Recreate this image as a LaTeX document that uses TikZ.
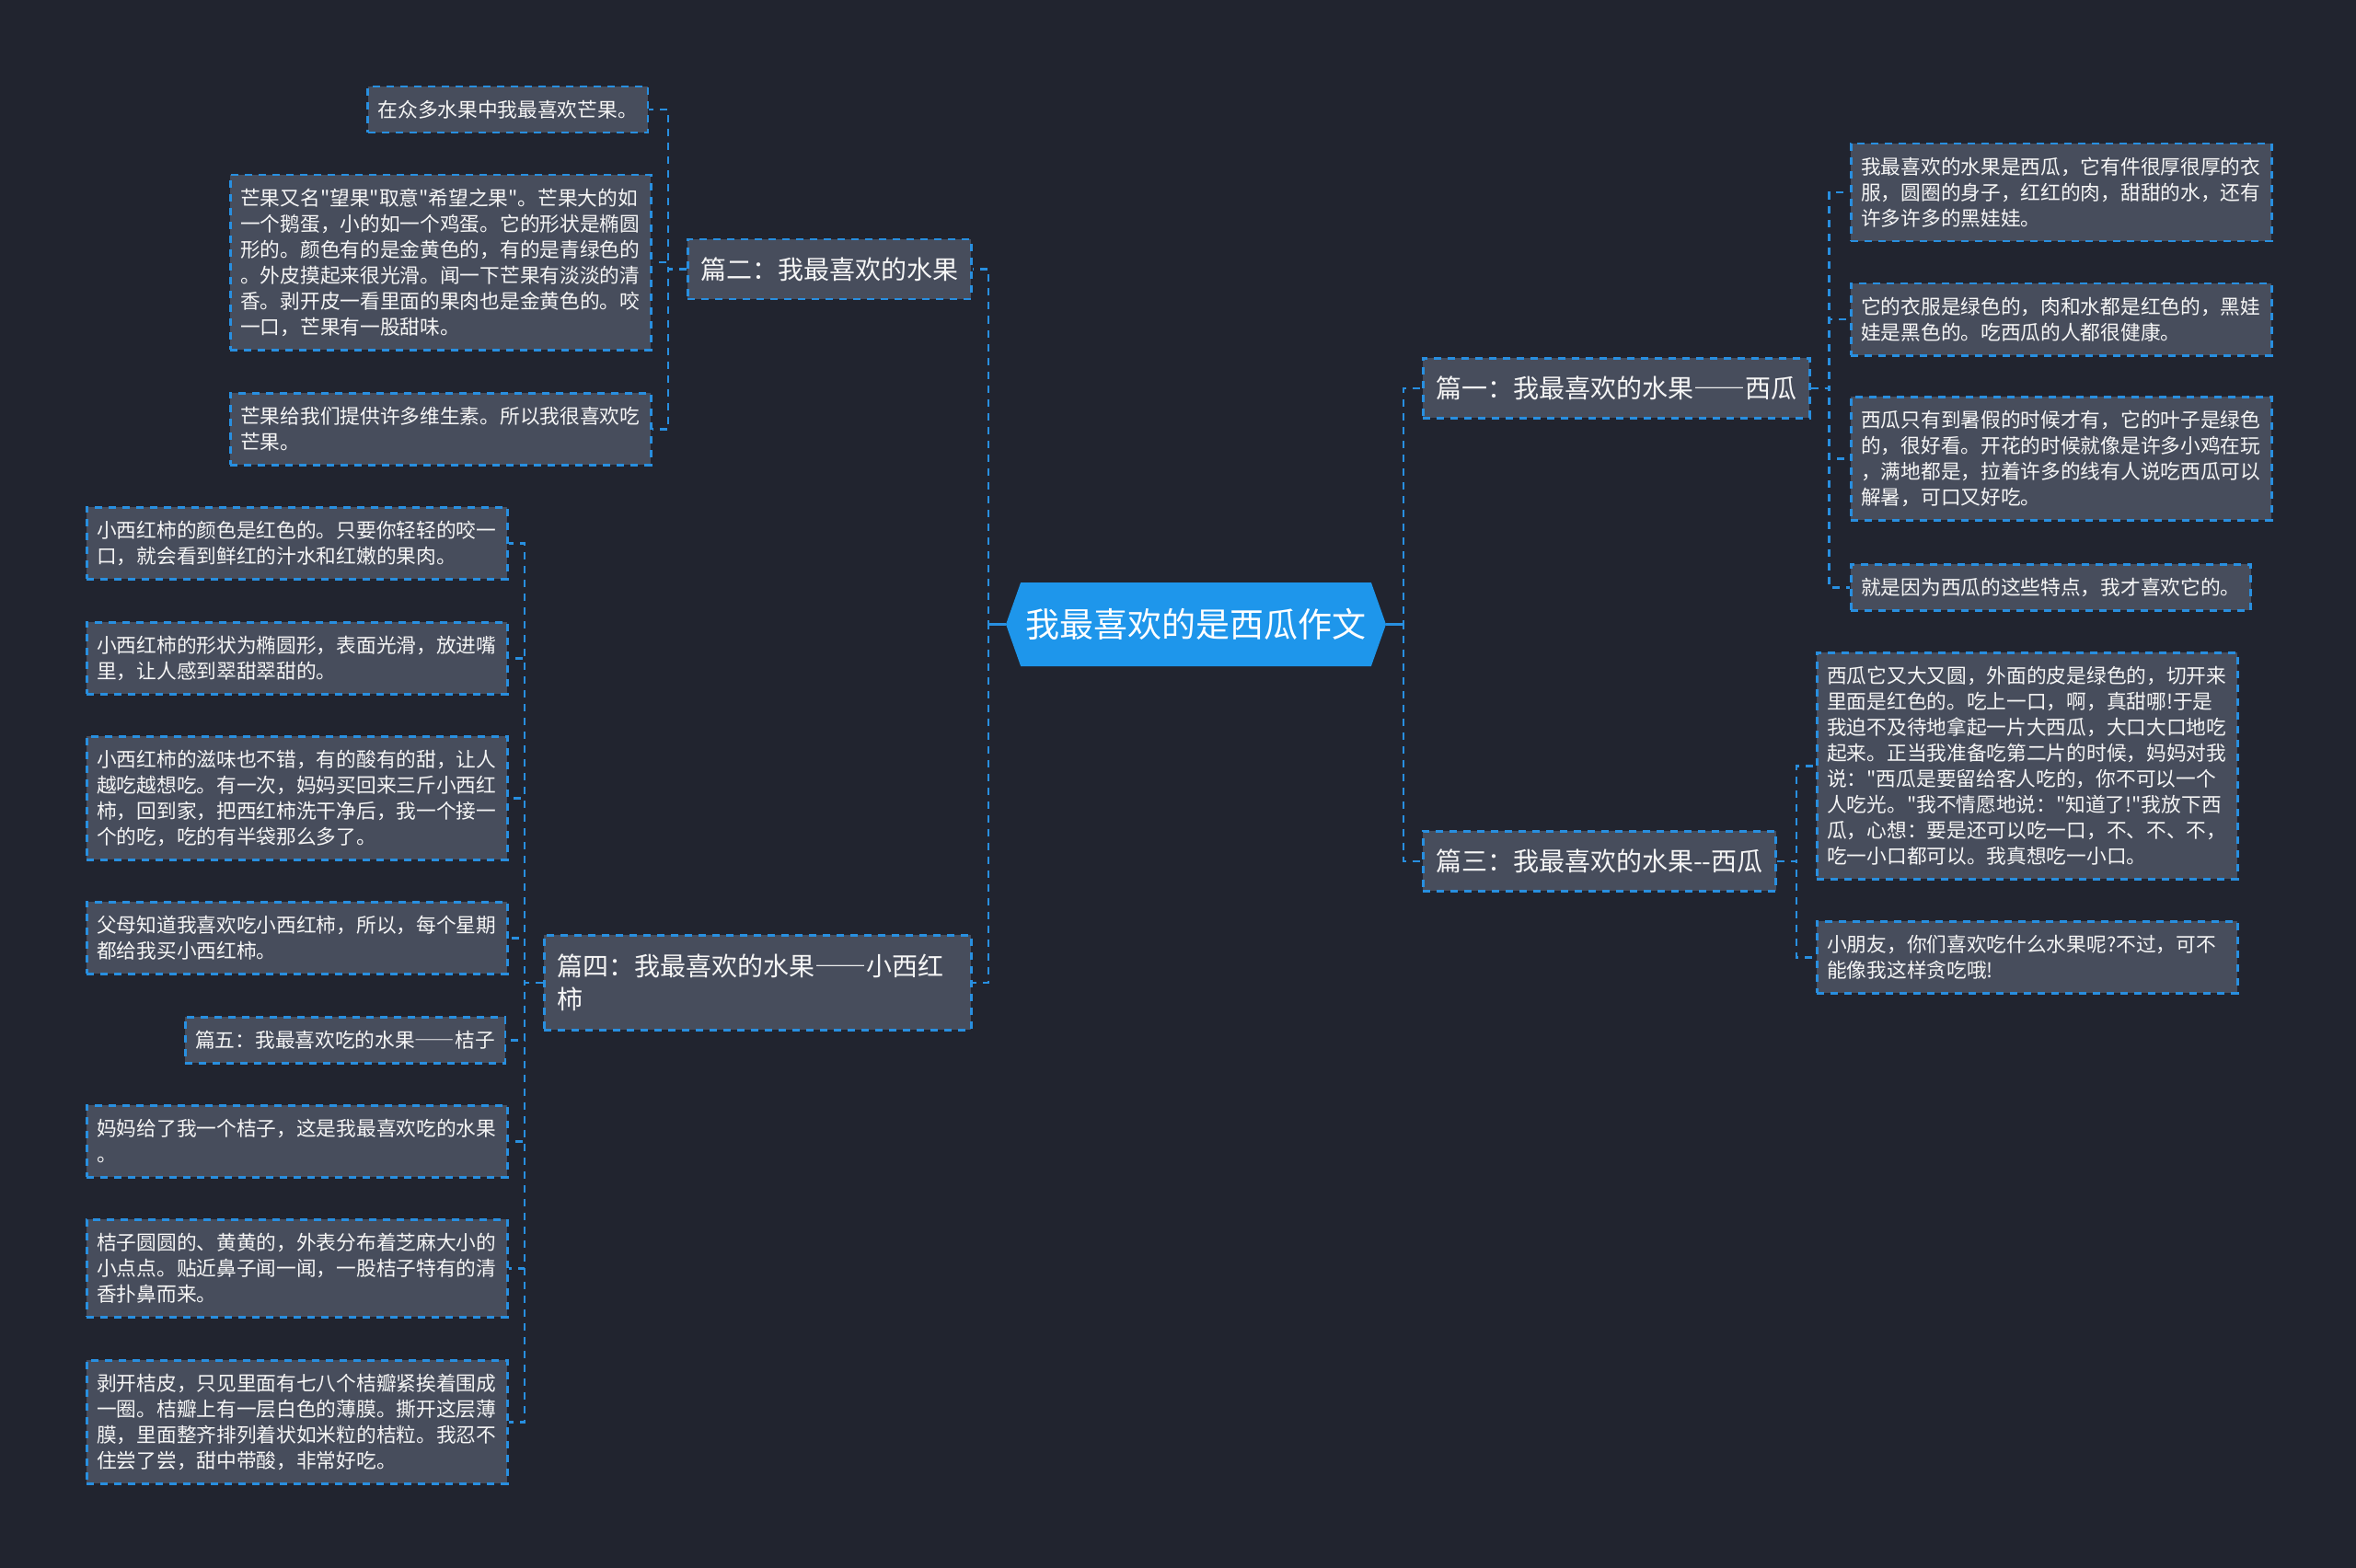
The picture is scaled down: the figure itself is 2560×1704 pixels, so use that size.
\documentclass[tikz,border=0pt]{standalone}
\usepackage{fontspec}
\newfontfamily\cjk{Noto Sans CJK SC}
\newcommand{\cjkdash}{{\addfontfeature{RawFeature=+fwid}——}}
\usetikzlibrary{shapes.symbols}
\definecolor{mapNavy}{RGB}{33,36,47}
\definecolor{mapGrey}{RGB}{71,77,92}
\definecolor{mapBlue}{RGB}{40,143,224}
\definecolor{mapRoot}{RGB}{30,150,235}
\definecolor{mapText}{RGB}{245,245,245}

\begin{document}
\begin{tikzpicture}[x=1pt, y=-1pt,
    leafbox/.style={draw=mapBlue, line width=2.5pt, dash pattern=on 8pt off 7pt, fill=mapGrey, text=mapText, align=left, font=\cjk\fontsize{21.7pt}{28pt}\selectfont, inner xsep=11pt, inner ysep=3pt, minimum height={#1*28pt+22pt}},
    leafbox/.default=1,
    widebox/.style={leafbox=#1, text width=435pt},
    topic/.style={draw=mapBlue, line width=2.5pt, dash pattern=on 8pt off 7pt, fill=mapGrey, text=mapText, align=left, font=\cjk\fontsize{28pt}{36.4pt}\selectfont, inner xsep=14pt, inner ysep=3pt, minimum height=65pt},
    rootnode/.style={signal, signal to=west and east, signal pointer angle=141, fill=mapRoot, text=white, font=\cjk\fontsize{37pt}{44pt}\selectfont, minimum width=413pt, minimum height=91pt, inner sep=0pt},
    linkline/.style={draw=mapBlue, line width=2.5pt, dash pattern=on 8pt off 7pt},
    hubline/.style={draw=mapBlue, line width=2.5pt}
]
    \useasboundingbox (0,0) rectangle (2560,1704);
    \fill[mapNavy] (0,0) rectangle (2560,1704);

    % centre
    \node[rootnode] (root) at (1299.5,678.5) {我最喜欢的是西瓜作文};

    % left: mango
    \node[topic, anchor=north west] (p2) at (746,259) {篇二：我最喜欢的水果};
    \node[leafbox, anchor=north east] (mango1) at (705,93) {在众多水果中我最喜欢芒果。};
    \node[widebox=6, anchor=north west] (mango2) at (249,189) {芒果又名"望果"取意"希望之果"。芒果大的如\\一个鹅蛋，小的如一个鸡蛋。它的形状是椭圆\\形的。颜色有的是金黄色的，有的是青绿色的\\。外皮摸起来很光滑。闻一下芒果有淡淡的清\\香。剥开皮一看里面的果肉也是金黄色的。咬\\一口，芒果有一股甜味。};
    \node[widebox=2, anchor=north west] (mango3) at (249,426) {芒果给我们提供许多维生素。所以我很喜欢吃\\芒果。};

    % left: tomato and mandarin
    \node[topic, text width=436pt, minimum height=103pt, anchor=north west] (p4) at (590,1015) {篇四：我最喜欢的水果\cjkdash 小西红\\柿};
    \node[widebox=2, anchor=north west] (tom1) at (93,550) {小西红柿的颜色是红色的。只要你轻轻的咬一\\口，就会看到鲜红的汁水和红嫩的果肉。};
    \node[widebox=2, anchor=north west] (tom2) at (93,675) {小西红柿的形状为椭圆形，表面光滑，放进嘴\\里，让人感到翠甜翠甜的。};
    \node[widebox=4, anchor=north west] (tom3) at (93,799) {小西红柿的滋味也不错，有的酸有的甜，让人\\越吃越想吃。有一次，妈妈买回来三斤小西红\\柿，回到家，把西红柿洗干净后，我一个接一\\个的吃，吃的有半袋那么多了。};
    \node[widebox=2, anchor=north west] (tom4) at (93,979) {父母知道我喜欢吃小西红柿，所以，每个星期\\都给我买小西红柿。};
    \node[leafbox, anchor=north east] (p5) at (550,1104) {篇五：我最喜欢吃的水果\cjkdash 桔子};
    \node[widebox=2, anchor=north west] (mand1) at (93,1200) {妈妈给了我一个桔子，这是我最喜欢吃的水果\\。};
    \node[widebox=3, anchor=north west] (mand2) at (93,1324) {桔子圆圆的、黄黄的，外表分布着芝麻大小的\\小点点。贴近鼻子闻一闻，一股桔子特有的清\\香扑鼻而来。};
    \node[widebox=4, anchor=north west] (mand3) at (93,1477) {剥开桔皮，只见里面有七八个桔瓣紧挨着围成\\一圈。桔瓣上有一层白色的薄膜。撕开这层薄\\膜，里面整齐排列着状如米粒的桔粒。我忍不\\住尝了尝，甜中带酸，非常好吃。};

    % right: watermelon
    \node[topic, anchor=north west] (p1) at (1545,388) {篇一：我最喜欢的水果\cjkdash 西瓜};
    \node[widebox=3, anchor=north west] (melon1) at (2010,155) {我最喜欢的水果是西瓜，它有件很厚很厚的衣\\服，圆圈的身子，红红的肉，甜甜的水，还有\\许多许多的黑娃娃。};
    \node[widebox=2, anchor=north west] (melon2) at (2010,307) {它的衣服是绿色的，肉和水都是红色的，黑娃\\娃是黑色的。吃西瓜的人都很健康。};
    \node[widebox=4, anchor=north west] (melon3) at (2010,430) {西瓜只有到暑假的时候才有，它的叶子是绿色\\的，很好看。开花的时候就像是许多小鸡在玩\\，满地都是，拉着许多的线有人说吃西瓜可以\\解暑，可口又好吃。};
    \node[leafbox, anchor=north west] (melon4) at (2010,612) {就是因为西瓜的这些特点，我才喜欢它的。};

    \node[topic, anchor=north west] (p3) at (1545,902) {篇三：我最喜欢的水果--西瓜};
    \node[widebox=8, anchor=north west] (melon5) at (1973,708) {西瓜它又大又圆，外面的皮是绿色的，切开来\\里面是红色的。吃上一口，啊，真甜哪!于是\\我迫不及待地拿起一片大西瓜，大口大口地吃\\起来。正当我准备吃第二片的时候，妈妈对我\\说："西瓜是要留给客人吃的，你不可以一个\\人吃光。"我不情愿地说："知道了!"我放下西\\瓜，心想：要是还可以吃一口，不、不、不，\\吃一小口都可以。我真想吃一小口。};
    \node[widebox=2, anchor=north west] (melon6) at (1973,1000) {小朋友，你们喜欢吃什么水果呢?不过，可不\\能像我这样贪吃哦!};

    % links
    \draw[hubline] (root.west) -- ++(-19,0) coordinate (lhub);
    \draw[hubline] (root.east) -- ++(19,0) coordinate (rhub);
    \draw[linkline, dash phase=3pt] (lhub) |- (p2.east);
    \draw[linkline, dash phase=3pt] (lhub) |- (p4.east);
    \draw[linkline, dash phase=3pt] (rhub) |- (p1.west);
    \draw[linkline, dash phase=3pt] (rhub) |- (p3.west);
    \foreach \kid in {mango1,mango2,mango3}
        \draw[linkline] (p2.west) -- ++(-20,0) |- (\kid.east);
    \foreach \kid in {tom1,tom2,tom3,tom4,p5,mand1,mand2,mand3}
        \draw[linkline] (p4.west) -- ++(-20,0) |- (\kid.east);
    \foreach \kid in {melon1,melon2,melon3,melon4}
        \draw[linkline] (p1.east) -- ++(20,0) |- (\kid.west);
    \foreach \kid in {melon5,melon6}
        \draw[linkline] (p3.east) -- ++(21,0) |- (\kid.west);
\end{tikzpicture}
\end{document}
